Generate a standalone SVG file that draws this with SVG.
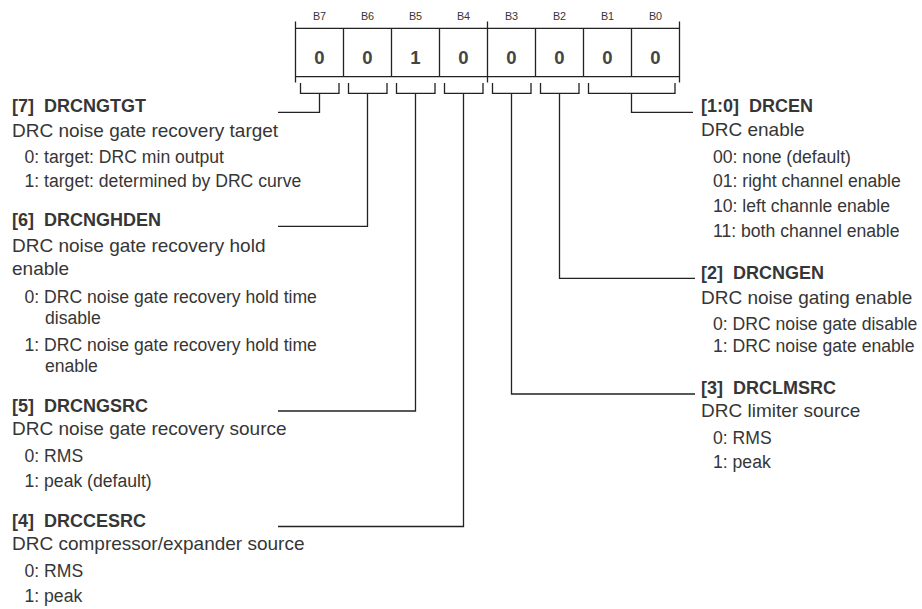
<svg xmlns="http://www.w3.org/2000/svg" width="922" height="609" viewBox="0 0 922 609">
<style>
  text { font-family: "Liberation Sans", Arial, sans-serif; fill: #363636; }
  .bl { font-size: 10.8px; text-anchor: middle; }
  .val { font-size: 18.5px; font-weight: bold; text-anchor: middle; fill: #444; }
  .t { font-size: 18px; font-weight: bold; }
  .d { font-size: 19px; }
  .s { font-size: 17.6px; }
  .ln { fill: none; stroke: #222; stroke-width: 1.3; }
</style>
<rect width="922" height="609" fill="#fff"/>
<g id="register">
  <text class="bl" x="319.5" y="20">B7</text>
  <text class="bl" x="367.5" y="20">B6</text>
  <text class="bl" x="415.5" y="20">B5</text>
  <text class="bl" x="463.5" y="20">B4</text>
  <text class="bl" x="511.5" y="20">B3</text>
  <text class="bl" x="559.5" y="20">B2</text>
  <text class="bl" x="607.5" y="20">B1</text>
  <text class="bl" x="655.5" y="20">B0</text>
  <path class="ln" d="M295.5 28.3H679.5M295.5 76.7H679.5M295.5 21.5V82.5M487.5 21.5V82.5M679.5 21.5V82.5M343.5 28.3V76.7M391.5 28.3V76.7M439.5 28.3V76.7M535.5 28.3V76.7M583.5 28.3V76.7M631.5 28.3V76.7"/>
  <text class="val" x="319.5" y="63.5">0</text>
  <text class="val" x="367.5" y="63.5">0</text>
  <text class="val" x="415.5" y="63.5">1</text>
  <text class="val" x="463.5" y="63.5">0</text>
  <text class="val" x="511.5" y="63.5">0</text>
  <text class="val" x="559.5" y="63.5">0</text>
  <text class="val" x="607.5" y="63.5">0</text>
  <text class="val" x="655.5" y="63.5">0</text>
</g>
<g id="connectors">
  <path class="ln" d="M300.5 83V93.3H339V83M319.5 93.3V112.3H278"/>
  <path class="ln" d="M348.5 83V93.3H387V83M367.5 93.3V226.3H278"/>
  <path class="ln" d="M396.5 83V93.3H435V83M415.5 93.3V411H278"/>
  <path class="ln" d="M444.5 83V93.3H483V83M463.5 93.3V526.5H278"/>
  <path class="ln" d="M492.5 83V93.3H531V83M511.5 93.3V394H695"/>
  <path class="ln" d="M540.5 83V93.3H579V83M559.5 93.3V278.3H695"/>
  <path class="ln" d="M588.5 83V93.3H675V83M631.5 93.3V112.3H693"/>
</g>
<g id="f7">
  <text class="t" x="12" y="112" xml:space="preserve">[7]  DRCNGTGT</text>
  <text class="d" x="12" y="137">DRC noise gate recovery target</text>
  <text class="s" x="24.5" y="163">0: target: DRC min output</text>
  <text class="s" x="24.5" y="187">1: target: determined by DRC curve</text>
</g>
<g id="f6">
  <text class="t" x="12" y="226" xml:space="preserve">[6]  DRCNGHDEN</text>
  <text class="d" x="12" y="252">DRC noise gate recovery hold</text>
  <text class="d" x="12" y="275">enable</text>
  <text class="s" x="24.5" y="303">0: DRC noise gate recovery hold time</text>
  <text class="s" x="45" y="324">disable</text>
  <text class="s" x="24.5" y="351">1: DRC noise gate recovery hold time</text>
  <text class="s" x="45" y="372">enable</text>
</g>
<g id="f5">
  <text class="t" x="12" y="411.5" xml:space="preserve">[5]  DRCNGSRC</text>
  <text class="d" x="12" y="435">DRC noise gate recovery source</text>
  <text class="s" x="24.5" y="462">0: RMS</text>
  <text class="s" x="24.5" y="487">1: peak (default)</text>
</g>
<g id="f4">
  <text class="t" x="12" y="526.5" xml:space="preserve">[4]  DRCCESRC</text>
  <text class="d" x="12" y="550">DRC compressor/expander source</text>
  <text class="s" x="24.5" y="577">0: RMS</text>
  <text class="s" x="24.5" y="602">1: peak</text>
</g>
<g id="f10">
  <text class="t" x="701" y="112" xml:space="preserve">[1:0]  DRCEN</text>
  <text class="d" x="701" y="135.5">DRC enable</text>
  <text class="s" x="713" y="163">00: none (default)</text>
  <text class="s" x="713" y="187">01: right channel enable</text>
  <text class="s" x="713" y="212">10: left channle enable</text>
  <text class="s" x="713" y="237">11: both channel enable</text>
</g>
<g id="f2">
  <text class="t" x="701" y="278.5" xml:space="preserve">[2]  DRCNGEN</text>
  <text class="d" x="701" y="303.5">DRC noise gating enable</text>
  <text class="s" x="713" y="330">0: DRC noise gate disable</text>
  <text class="s" x="713" y="352">1: DRC noise gate enable</text>
</g>
<g id="f3">
  <text class="t" x="701" y="393.5" xml:space="preserve">[3]  DRCLMSRC</text>
  <text class="d" x="701" y="417">DRC limiter source</text>
  <text class="s" x="713" y="444">0: RMS</text>
  <text class="s" x="713" y="467.5">1: peak</text>
</g>
</svg>
